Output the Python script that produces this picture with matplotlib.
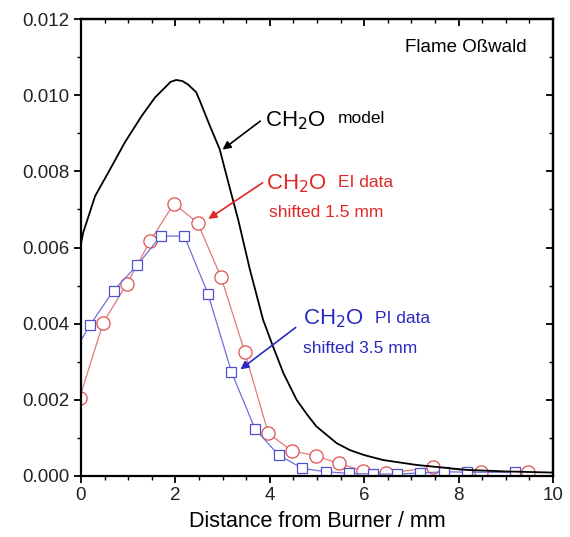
import matplotlib
matplotlib.use('Agg')
from matplotlib import pyplot as plt
from matplotlib.ticker import MultipleLocator

plt.rcParams['font.family'] = ['Liberation Sans', 'DejaVu Sans']

# model curve
model_x = [0.0, 0.05, 0.3, 0.58, 0.93, 1.29, 1.57, 1.78, 1.9, 2.02, 2.15,
           2.27, 2.44, 2.52, 2.73, 2.94, 3.16, 3.33, 3.58, 3.86, 4.07, 4.29,
           4.57, 4.8, 4.99, 5.42, 5.7, 6.0, 6.4, 7.11, 8.17, 9.0, 10.0]
model_y = [0.0061, 0.0064, 0.00735, 0.00797, 0.00876, 0.00946, 0.00994,
           0.0102, 0.01035, 0.0104, 0.01037, 0.01028, 0.01008, 0.00985,
           0.0092, 0.00858, 0.00753, 0.00674, 0.00542, 0.0041, 0.0034,
           0.0027, 0.002, 0.0016, 0.0013, 0.00086, 0.00068, 0.00055,
           0.00042, 0.00029, 0.00016, 0.00012, 0.00009]

# EI data, shifted 1.5 mm
ei_x = [-0.03, 0.47, 0.97, 1.47, 1.97, 2.47, 2.97, 3.47, 3.97, 4.47, 4.97,
        5.47, 5.97, 6.47, 7.47, 8.47, 9.47]
ei_y = [0.00204, 0.00402, 0.00504, 0.00618, 0.00715, 0.00665, 0.00522,
        0.00326, 0.00112, 0.00066, 0.00053, 0.00033, 0.00014, 0.00007,
        0.00023, 0.0001, 0.0001]

# PI data, shifted 3.5 mm
pi_x = [-0.31, 0.19, 0.69, 1.19, 1.69, 2.19, 2.69, 3.19, 3.69, 4.19, 4.69,
        5.19, 5.69, 6.19, 6.69, 7.19, 7.69, 8.19, 9.19]
pi_y = [0.0029, 0.00396, 0.00487, 0.00553, 0.0063, 0.0063, 0.00479, 0.00273,
        0.00123, 0.00055, 0.0002, 0.00011, 0.00007, 0.00005, 0.00005,
        0.00008, 0.00011, 0.0001, 0.0001]

red_line = '#e07a7a'
red_text = '#e02828'
blue_line = '#7070d8'
blue_text = '#2a2ac0'
big = 16
small = 12.5

fig = plt.figure(figsize=(5.7, 5.37), dpi=100)
ax = fig.add_axes([0.142, 0.1136, 0.828, 0.851])

ax.plot(model_x, model_y, color='black', lw=1.3, zorder=3)
ax.plot(ei_x, ei_y, color=red_line, lw=0.9, marker='o', ms=9.5,
        mfc='white', mec='#e05050', mew=0.9, zorder=2)
ax.plot(pi_x, pi_y, color=blue_line, lw=0.9, marker='s', ms=7.2,
        mfc='white', mec='#5050d0', mew=0.9, zorder=2)

ax.set_xlim(0, 10)
ax.set_ylim(0, 0.012)
ax.xaxis.set_major_locator(MultipleLocator(2))
ax.xaxis.set_minor_locator(MultipleLocator(0.5))
ax.yaxis.set_major_locator(MultipleLocator(0.002))
ax.yaxis.set_minor_locator(MultipleLocator(0.001))
ax.yaxis.set_major_formatter(plt.FormatStrFormatter('%.3f'))

for s in ax.spines.values():
    s.set_linewidth(1.6)
ax.tick_params(which='major', direction='out', length=5, width=1.3,
               labelsize=13.5, pad=3, labelcolor='#222222')
ax.tick_params(which='minor', direction='out', length=3, width=1.0)

# mirrored ticks on top/right, pointing in
top = ax.secondary_xaxis('top')
top.xaxis.set_major_locator(MultipleLocator(2))
top.xaxis.set_minor_locator(MultipleLocator(0.5))
top.tick_params(which='major', direction='in', length=5, width=1.3,
                labeltop=False)
top.tick_params(which='minor', direction='in', length=3, width=1.0)
top.spines['top'].set_linewidth(1.6)
right = ax.secondary_yaxis('right')
right.yaxis.set_major_locator(MultipleLocator(0.002))
right.yaxis.set_minor_locator(MultipleLocator(0.001))
right.tick_params(which='major', direction='in', length=5, width=1.3,
                  labelright=False)
right.tick_params(which='minor', direction='in', length=3, width=1.0)
right.spines['right'].set_linewidth(1.6)

ax.set_xlabel('Distance from Burner / mm', fontsize=15.5, labelpad=5)

ax.text(9.45, 0.01113, 'Flame Oßwald', ha='right', va='baseline',
        fontsize=13.5)

# annotations
ax.annotate('', xy=(3.0, 0.00857), xytext=(3.8, 0.00932),
            arrowprops=dict(arrowstyle='-|>', color='black', lw=1.2,
                            mutation_scale=12, shrinkA=0, shrinkB=0))
ax.text(3.9, 0.00918, 'CH$_2$O', fontsize=big, color='black', va='baseline')
ax.text(5.44, 0.00928, 'model', fontsize=small, color='black',
        va='baseline')

ax.annotate('', xy=(2.7, 0.00675), xytext=(3.85, 0.0077),
            arrowprops=dict(arrowstyle='-|>', color=red_text, lw=1.2,
                            mutation_scale=12, shrinkA=0, shrinkB=0))
ax.text(3.92, 0.00753, 'CH$_2$O', fontsize=big, color=red_text,
        va='baseline')
ax.text(5.44, 0.0076, 'EI data', fontsize=small, color=red_text,
        va='baseline')
ax.text(3.98, 0.00679, 'shifted 1.5 mm', fontsize=small, color=red_text,
        va='baseline')

ax.annotate('', xy=(3.38, 0.0028), xytext=(4.55, 0.0039),
            arrowprops=dict(arrowstyle='-|>', color=blue_text, lw=1.2,
                            mutation_scale=12, shrinkA=0, shrinkB=0))
ax.text(4.7, 0.00397, 'CH$_2$O', fontsize=big, color=blue_text,
        va='baseline')
ax.text(6.23, 0.00403, 'PI data', fontsize=small, color=blue_text,
        va='baseline')
ax.text(4.7, 0.00324, 'shifted 3.5 mm', fontsize=small, color=blue_text,
        va='baseline')

fig.savefig('out.png', dpi=100)
